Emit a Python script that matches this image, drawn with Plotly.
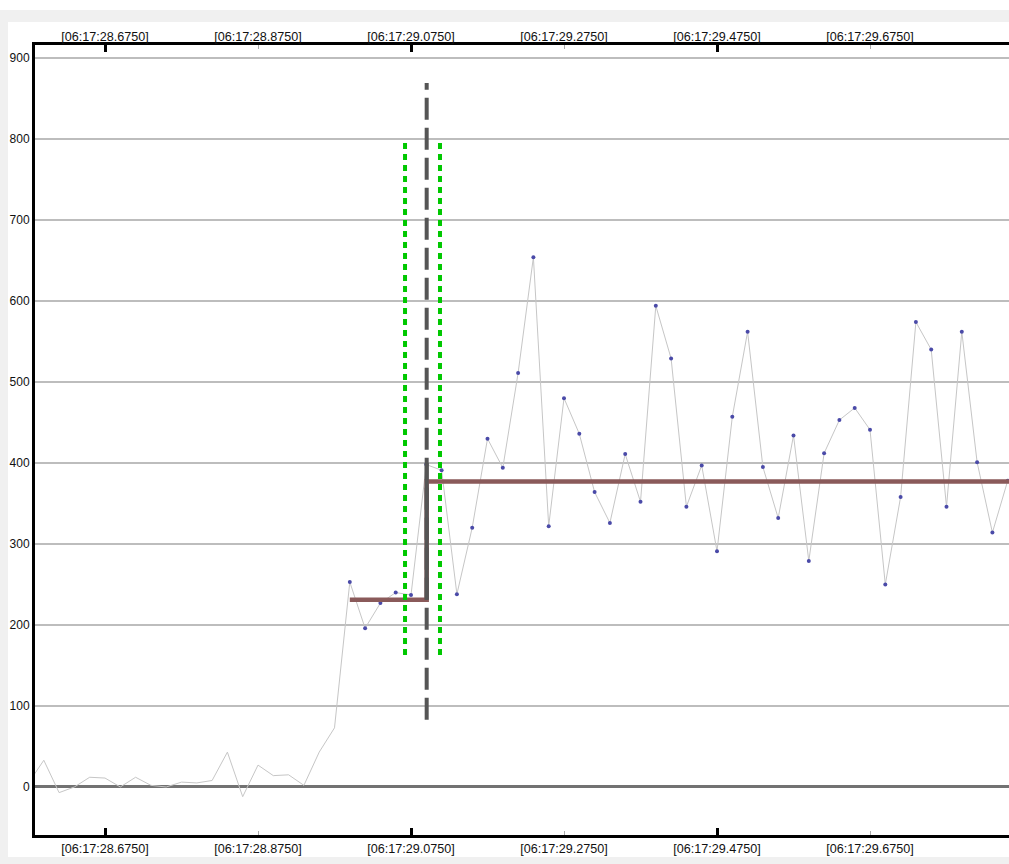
import plotly.graph_objects as go

# ---- data ----
t0 = 28.575          # seconds after 06:17:00 of first sample
dt = 0.02
values = [5, 33, -7, 0, 12, 11, 0, 12, 2, 0, 6, 5, 8, 43, -12, 27, 14, 15, 2, 43, 73,
          253, 196, 227, 240, 237, 398, 391, 238, 320, 430, 394, 511, 654, 322, 480,
          436, 364, 326, 411, 352, 594, 529, 346, 397, 291, 457, 562, 395, 332, 434,
          279, 412, 453, 468, 441, 250, 358, 574, 540, 346, 562, 401, 314, 378]
times = [round(t0 + dt * i, 4) for i in range(len(values))]
marker_start = 21   # markers drawn from this sample on

step_times = [28.995, 29.0955, 29.90]
step_levels = [231, 377, 377]
cp_time = 29.0955
cp_jump = [231, 400]
cp_dash_span = [83, 869]
band_times = [29.0672, 29.1129]
band_span = [163, 800]

tick_vals = [28.675, 28.875, 29.075, 29.275, 29.475, 29.675]
tick_text = ["[06:17:28.6750]", "[06:17:28.8750]", "[06:17:29.0750]",
             "[06:17:29.2750]", "[06:17:29.4750]", "[06:17:29.6750]"]
major_ticks = [28.675, 29.075, 29.475]
y_ticks = [0, 100, 200, 300, 400, 500, 600, 700, 800, 900]

x_range = [28.5835, 29.8567]
y_range = [-59.3, 916]

FONT = "Liberation Sans"

fig = go.Figure()
fig.add_trace(go.Scatter(x=times, y=values, mode="lines",
                         line=dict(color="#c6c6c6", width=1), hoverinfo="skip"))
fig.add_trace(go.Scatter(x=times[marker_start:], y=values[marker_start:], mode="markers",
                         marker=dict(color="#4a4aa8", size=4), hoverinfo="skip"))
fig.add_trace(go.Scatter(x=step_times, y=step_levels, mode="lines", line_shape="hv",
                         line=dict(color="#8a5a5a", width=4.5)))
fig.add_trace(go.Scatter(x=[cp_time, cp_time], y=cp_jump, mode="lines",
                         line=dict(color="#555555", width=4)))
fig.add_trace(go.Scatter(x=[cp_time, cp_time], y=cp_dash_span, mode="lines",
                         line=dict(color="#555555", width=4, dash="22px,8px"), xaxis="x3"))
for bt in band_times:
    fig.add_trace(go.Scatter(x=[bt, bt], y=band_span, mode="lines",
                             line=dict(color="#00c800", width=4, dash="6px,5px"), xaxis="x2"))

# background panel shapes (layout)
W, H = 1009, 864
L, R, T, B = 35, 0, 45, 29
pw, ph = W - L - R, H - T - B
def px(x):
    return (x - L) / pw
def py(y):
    return (H - B - y) / ph

fig.update_layout(
    width=W, height=H,
    margin=dict(l=L, r=R, t=T, b=B, pad=0),
    paper_bgcolor="#f0f0f0", plot_bgcolor="white",
    showlegend=False,
    font=dict(family=FONT, size=12, color="#111111"),
    shapes=[
        dict(type="rect", xref="paper", yref="paper", x0=px(8), x1=px(W + 5),
             y0=py(857), y1=py(22), fillcolor="white", line_width=0, layer="below"),
        dict(type="rect", xref="paper", yref="paper", x0=px(-5), x1=px(W + 5),
             y0=py(10), y1=py(-5), fillcolor="white", line_width=0, layer="below"),
    ],
    xaxis=dict(range=x_range, tickvals=tick_vals, ticktext=tick_text,
               ticks="inside", ticklen=4, tickwidth=1, tickcolor="#aaaaaa",
               showline=True, linecolor="black", linewidth=3, mirror="ticks",
               showgrid=False, zeroline=False, tickfont=dict(size=12.6)),
    xaxis2=dict(range=x_range, matches="x", overlaying="x", side="top",
                tickvals=tick_vals, ticktext=tick_text, ticks="",
                showline=False, showgrid=False, zeroline=False, tickfont=dict(size=12.6)),
    xaxis3=dict(range=x_range, matches="x", overlaying="x", side="bottom",
                tickvals=major_ticks, ticks="inside", ticklen=7, tickwidth=3,
                tickcolor="black", showticklabels=False, mirror="ticks",
                showline=True, linecolor="black", linewidth=3,
                showgrid=False, zeroline=False),
    yaxis=dict(range=y_range, tickvals=y_ticks, ticks="",
               showgrid=True, gridcolor="#bdbdbd", gridwidth=2,
               zeroline=True, zerolinecolor="#727272", zerolinewidth=3,
               showline=True, linecolor="black", linewidth=3, mirror=False,
               tickfont=dict(size=12)),
)

fig.write_html("out.html", config={"displayModeBar": False},
               post_script="document.body.style.margin='0';document.body.style.overflow='hidden';")
